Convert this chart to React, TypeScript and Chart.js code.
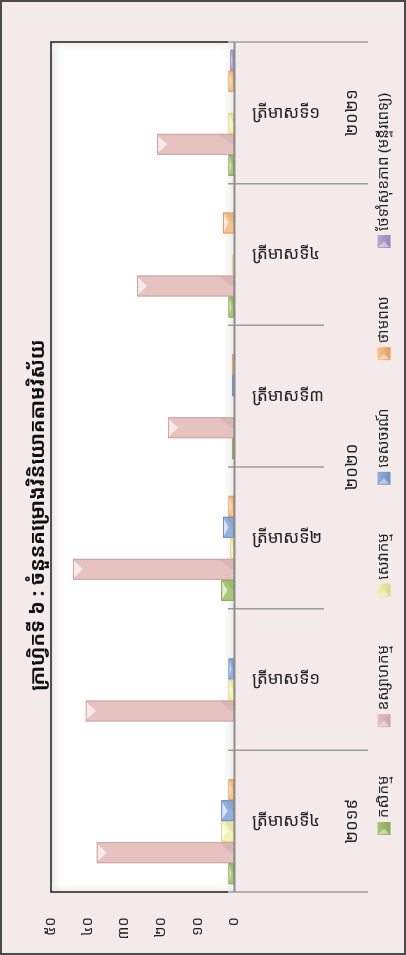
import React, { useEffect, useRef } from 'react';
import { Chart, registerables } from 'chart.js';
Chart.register(...registerables);

// ---- data ----
const quarters = ['ត្រីមាសទី៤', 'ត្រីមាសទី១', 'ត្រីមាសទី២', 'ត្រីមាសទី៣', 'ត្រីមាសទី៤', 'ត្រីមាសទី១'];
const yearLabels = ['២០១៩', '២០២០', '២០២១'];
const yearFirstIndex = [0, 1, 5];
const yearLastIndex = [0, 4, 5];
const valueTickLabels = ['០', '១០', '២០', '៣០', '៤០', '៥០'];
const seriesNames = ['កសិកម្ម', 'ឧស្សាហកម្ម', 'សេវាកម្ម', 'ទេសចរណ៍', 'ថាមពល', 'ថែទាំសុខភាព (មន្ទីរពេទ្យ)'];
const agriculture = [1.5, 0, 3.5, 0.5, 1.5, 1.5];
const industry = [37.5, 40.5, 44, 18, 26.5, 21];
const services = [3.5, 1.5, 1, 0, 0.5, 1.5];
const tourism = [3.5, 1.5, 3, 0.5, 0, 0];
const energy = [1.5, 0, 1.5, 0.5, 3, 1.5];
const health = [0, 0, 0, 0, 0, 1];
const titleText = 'ក្រាហ្វិកទី ៦ : ចំនួនគម្រោងវិនិយោគតាមវិស័យ';

// ---- styles ----
const seriesValues = [agriculture, industry, services, tourism, energy, health];
const seriesColors = ['#A8C878', '#E6C2C0', '#F3F2B4', '#93B0DC', '#F8C38E', '#B8A8D0'];
const seriesEdges = ['#86A957', '#CFA3A1', '#D8D68C', '#6F8FC2', '#DE9F62', '#9886B8'];
const KH = "'Noto Sans Khmer', 'Khmer OS', 'Khmer OS System', 'Noto Serif Khmer', 'DejaVu Sans', sans-serif";
const BG = '#F4EAEA';
const TEXT = '#222222';

const decorPlugin = {
  id: 'decor',
  beforeDraw(chart: any) {
    const { ctx, width, height, chartArea: a } = chart;
    ctx.save();
    ctx.fillStyle = BG;
    ctx.fillRect(0, 0, width, height);
    ctx.strokeStyle = '#4A4A4A';
    ctx.lineWidth = 2;
    ctx.strokeRect(1, 1, width - 2, height - 2);
    // plot area
    ctx.fillStyle = '#FFFFFF';
    ctx.fillRect(a.left, a.top, a.right - a.left, a.bottom - a.top);
    let g = ctx.createLinearGradient(a.left, 0, a.left + 14, 0);
    g.addColorStop(0, 'rgba(225,225,225,0.9)');
    g.addColorStop(1, 'rgba(255,255,255,0)');
    ctx.fillStyle = g;
    ctx.fillRect(a.left, a.top, 14, a.bottom - a.top);
    g = ctx.createLinearGradient(a.right - 14, 0, a.right, 0);
    g.addColorStop(0, 'rgba(255,255,255,0)');
    g.addColorStop(1, 'rgba(230,230,230,0.9)');
    ctx.fillStyle = g;
    ctx.fillRect(a.right - 14, a.top, 14, a.bottom - a.top);
    g = ctx.createLinearGradient(0, a.top, 0, a.top + 12);
    g.addColorStop(0, 'rgba(232,232,232,0.8)');
    g.addColorStop(1, 'rgba(255,255,255,0)');
    ctx.fillStyle = g;
    ctx.fillRect(a.left, a.top, a.right - a.left, 12);
    g = ctx.createLinearGradient(0, a.bottom - 12, 0, a.bottom);
    g.addColorStop(0, 'rgba(255,255,255,0)');
    g.addColorStop(1, 'rgba(232,232,232,0.8)');
    ctx.fillStyle = g;
    ctx.fillRect(a.left, a.bottom - 12, a.right - a.left, 12);
    ctx.restore();
  },
  afterDatasetsDraw(chart: any) {
    const { ctx } = chart;
    ctx.save();
    chart.data.datasets.forEach((ds: any, di: number) => {
      const meta = chart.getDatasetMeta(di);
      meta.data.forEach((bar: any) => {
        const tip = bar.x;
        const base = bar.base;
        const w = base - tip;
        if (w < 0.5) return;
        const top = bar.y - bar.height / 2;
        const bot = bar.y + bar.height / 2;
        const b = Math.min(10, w / 2);
        ctx.strokeStyle = ds.edgeColor;
        ctx.lineWidth = 1;
        ctx.strokeRect(tip + 0.5, top + 0.5, Math.max(0, w - 1), bar.height - 1);
        if (w > 3) {
          ctx.fillStyle = 'rgba(255,255,255,0.65)';
          ctx.beginPath();
          ctx.moveTo(tip + 1, top + 2);
          ctx.lineTo(tip + b, bar.y);
          ctx.lineTo(tip + 1, bot - 2);
          ctx.closePath();
          ctx.fill();
          ctx.fillStyle = 'rgba(0,0,0,0.06)';
          ctx.beginPath();
          ctx.moveTo(base, top + 1);
          ctx.lineTo(base - b * 1.4, top + 1);
          ctx.lineTo(base - b * 0.3, bar.y);
          ctx.lineTo(base, bar.y);
          ctx.closePath();
          ctx.fill();
        }
      });
    });
    ctx.restore();
  },
  afterDraw(chart: any) {
    const { ctx, chartArea: a, scales } = chart;
    const yScale = scales.y;
    ctx.save();
    // plot border (black) on left, top, bottom
    ctx.strokeStyle = '#1E1E1E';
    ctx.lineWidth = 1.5;
    ctx.beginPath();
    ctx.moveTo(a.right - 6, a.top);
    ctx.lineTo(a.left, a.top);
    ctx.lineTo(a.left, a.bottom);
    ctx.lineTo(a.right - 6, a.bottom);
    ctx.stroke();
    // category boundary ticks
    ctx.strokeStyle = '#9C9C9C';
    ctx.lineWidth = 1.5;
    const n = quarters.length;
    for (let i = 0; i <= n; i++) {
      const y = yScale.getPixelForValue(i - 0.5);
      const long = i === 0 || i === n || yearFirstIndex.includes(i);
      ctx.beginPath();
      ctx.moveTo(a.right - 6, y);
      ctx.lineTo(long ? 368 : 324, y);
      ctx.stroke();
    }
    // value axis line
    ctx.strokeStyle = '#8E8E8E';
    ctx.lineWidth = 2;
    ctx.beginPath();
    ctx.moveTo(a.right + 0.5, a.top);
    ctx.lineTo(a.right + 0.5, a.bottom);
    ctx.stroke();

    // year labels (rotated)
    ctx.fillStyle = TEXT;
    ctx.font = `17px ${KH}`;
    ctx.textAlign = 'center';
    ctx.textBaseline = 'middle';
    yearLabels.forEach((lbl, i) => {
      const y1 = yScale.getPixelForValue(yearFirstIndex[i] - 0.5);
      const y2 = yScale.getPixelForValue(yearLastIndex[i] + 0.5);
      ctx.save();
      ctx.translate(352, (y1 + y2) / 2);
      ctx.rotate(-Math.PI / 2);
      ctx.fillText(lbl, 0, 0);
      ctx.restore();
    });

    // title (rotated)
    ctx.save();
    ctx.font = `bold 20px ${KH}`;
    ctx.translate(38, 515);
    ctx.rotate(-Math.PI / 2);
    ctx.fillStyle = '#111111';
    ctx.fillText(titleText, 0, 0);
    ctx.restore();

    // legend (rotated)
    ctx.font = `15px ${KH}`;
    const box = 13;
    const gapBoxText = 4;
    const widths = seriesNames.map((s) => ctx.measureText(s).width);
    const itemLens = widths.map((w) => box + gapBoxText + w);
    const sum = itemLens.reduce((p, c) => p + c, 0);
    const startY = 835;
    const endY = 93;
    const gap = (startY - endY - sum) / (seriesNames.length - 1);
    let cur = startY;
    const lx = 384;
    seriesNames.forEach((name, i) => {
      const g = ctx.createLinearGradient(lx - box / 2, 0, lx + box / 2, 0);
      g.addColorStop(0, seriesColors[i]);
      g.addColorStop(1, seriesEdges[i]);
      ctx.fillStyle = g;
      ctx.fillRect(lx - box / 2, cur - box, box, box);
      ctx.fillStyle = 'rgba(255,255,255,0.45)';
      ctx.beginPath();
      ctx.moveTo(lx - box / 2 + 1, cur - 1);
      ctx.lineTo(lx, cur - box / 2);
      ctx.lineTo(lx + box / 2 - 1, cur - 1);
      ctx.closePath();
      ctx.fill();
      ctx.save();
      ctx.translate(lx, cur - box - gapBoxText);
      ctx.rotate(-Math.PI / 2);
      ctx.fillStyle = TEXT;
      ctx.textAlign = 'left';
      ctx.textBaseline = 'middle';
      ctx.fillText(name, 0, 0);
      ctx.restore();
      cur -= itemLens[i] + gap;
    });
    ctx.restore();
  },
};

export default function App() {
  const ref = useRef<HTMLCanvasElement | null>(null);
  useEffect(() => {
    if (!ref.current) return;
    const order = [5, 4, 3, 2, 1, 0];
    const chart = new Chart(ref.current, {
      type: 'bar',
      data: {
        labels: quarters,
        datasets: order.map((i) => ({
          label: seriesNames[i],
          data: seriesValues[i],
          backgroundColor: seriesColors[i],
          edgeColor: seriesEdges[i],
          borderWidth: 0,
          categoryPercentage: 0.89,
          barPercentage: 1,
        })) as any,
      },
      options: {
        indexAxis: 'y',
        animation: false,
        responsive: false,
        devicePixelRatio: 1,
        layout: { padding: { left: 51, top: 42, right: 0, bottom: 0 } },
        plugins: { legend: { display: false }, title: { display: false }, tooltip: { enabled: false } },
        scales: {
          x: {
            type: 'linear',
            position: 'bottom',
            reverse: true,
            min: 0,
            max: 50,
            grid: { display: false },
            border: { display: false },
            ticks: {
              stepSize: 10,
              minRotation: 90,
              maxRotation: 90,
              padding: 17,
              color: TEXT,
              font: { family: KH, size: 15 },
              callback: (v: any) => valueTickLabels[Math.round(Number(v) / 10)],
            },
            afterFit: (s: any) => {
              s.height = 63;
            },
          },
          y: {
            type: 'category',
            position: 'right',
            reverse: true,
            offset: true,
            grid: { display: false },
            border: { display: false },
            ticks: {
              padding: 10,
              color: TEXT,
              font: { family: KH, size: 17 },
            },
            afterFit: (s: any) => {
              s.width = 172;
            },
          },
        },
      } as any,
      plugins: [decorPlugin],
    });
    return () => chart.destroy();
  }, []);
  return (
    <div style={{ position: 'absolute', left: 0, top: 0, width: 406, height: 955 }}>
      <canvas ref={ref} width={406} height={955} style={{ display: 'block' }} />
    </div>
  );
}
